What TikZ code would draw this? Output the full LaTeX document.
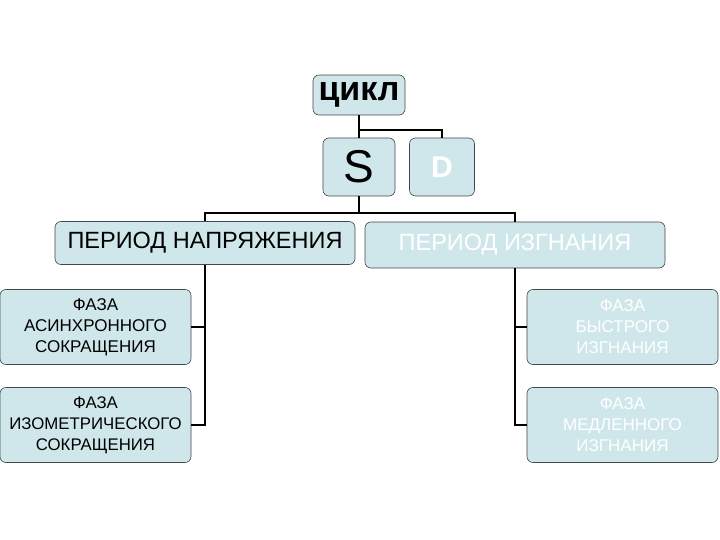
\documentclass[tikz,border=0pt]{standalone}
\usepackage{fontspec}
\setmainfont{Liberation Sans}
\definecolor{boxfill}{HTML}{CFE7EB}
\definecolor{boxline}{HTML}{404848}
\begin{document}
\begin{tikzpicture}[x=1pt,y=-1pt,
 bx/.style={draw=boxline,line width=0.6pt,fill=boxfill,rounded corners=6pt,inner sep=0pt,align=center},
 conn/.style={line width=1.3pt,black}]
\useasboundingbox (0,0) rectangle (720,540);
\node[bx,minimum width=92,minimum height=40,font=\fontsize{34}{38}\selectfont\bfseries] (c) at (359,95) {цикл};
\node[bx,minimum width=72,minimum height=58,font=\fontsize{46}{50}\selectfont] (s) at (359,167) {S};
\node[bx,minimum width=65,minimum height=58,font=\fontsize{30}{34}\selectfont\bfseries,text=white] (d) at (442,167) {D};
\node[bx,minimum width=300,minimum height=43,font=\fontsize{23.5}{26}\selectfont] (pn) at (205,243) {ПЕРИОД НАПРЯЖЕНИЯ};
\node[bx,minimum width=300,minimum height=46,font=\fontsize{23.5}{26}\selectfont,text=white] (pi) at (515,245) {ПЕРИОД ИЗГНАНИЯ};
\node[bx,minimum width=191,minimum height=75,font=\fontsize{17}{21}\selectfont] (l1) at (95.5,327) {ФАЗА\\АСИНХРОННОГО\\СОКРАЩЕНИЯ};
\node[bx,minimum width=191,minimum height=75,font=\fontsize{16.8}{21}\selectfont] (l2) at (95.5,425) {ФАЗА\\ИЗОМЕТРИЧЕСКОГО\\СОКРАЩЕНИЯ};
\node[bx,minimum width=191,minimum height=75,font=\fontsize{17}{21}\selectfont,text=white] (r1) at (622.5,327) {ФАЗА\\БЫСТРОГО\\ИЗГНАНИЯ};
\node[bx,minimum width=191,minimum height=75,font=\fontsize{17}{21}\selectfont,text=white] (r2) at (622.5,425) {ФАЗА\\МЕДЛЕННОГО\\ИЗГНАНИЯ};
\coordinate (j1) at (359,130);
\coordinate (j2) at (359,213);
\draw[conn] (c.south) -- (j1) -| (d.north);
\draw[conn] (j1) -- (s.north);
\draw[conn] (s.south) -- (j2);
\draw[conn] (pn.north) |- (j2) -| (pi.north);
\draw[conn] (pn.south) |- (l2.east);
\draw[conn] (l1.east) -- (l1.east -| pn.south);
\draw[conn] (pi.south) |- (r2.west);
\draw[conn] (r1.west) -- (r1.west -| pi.south);
\end{tikzpicture}
\end{document}
